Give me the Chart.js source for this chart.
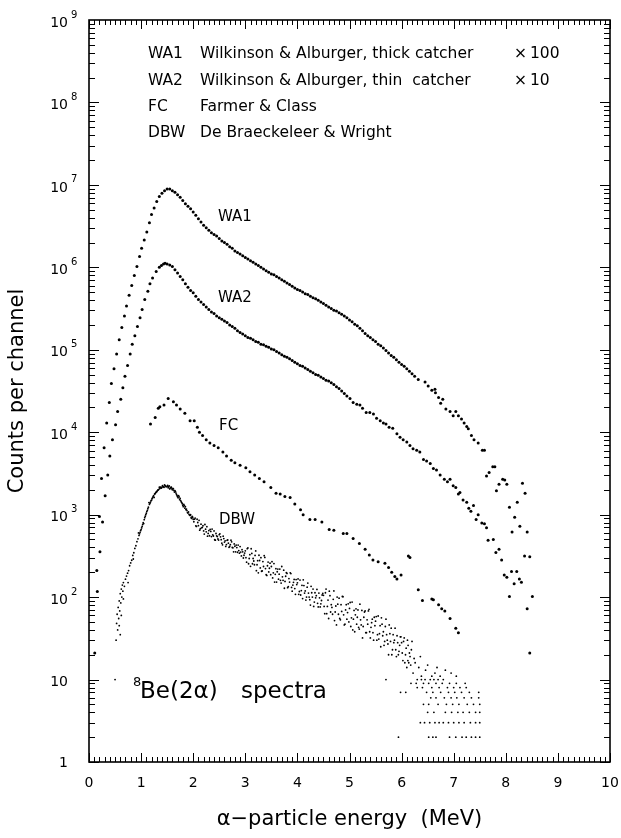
<!DOCTYPE html>
<html>
<head>
<meta charset="utf-8">
<script src="https://cdn.jsdelivr.net/npm/chart.js@4.4.1/dist/chart.umd.min.js"></script>
<style>
  html, body { margin: 0; padding: 0; background: #fff; }
  #wrap { width: 621px; height: 838px; }
</style>
</head>
<body>
<div id="wrap"><canvas id="spectra" width="621" height="838"></canvas></div>
<script>
// [energy MeV, counts per channel] (WA1 already x100, WA2 x10)
const wa1 = [
  [0.11,21],[0.15,210],[0.20,950],[0.24,2750],[0.29,6460],[0.34,1.29e4],[0.39,2.29e4],[0.43,3.89e4],
  [0.48,5.89e4],[0.53,8.91e4],[0.58,1.32e5],[0.63,1.86e5],[0.68,2.57e5],[0.72,3.39e5],[0.77,4.57e5],
  [0.82,6.03e5],[0.87,7.94e5],[0.92,1.02e6],[0.97,1.35e6],[1.01,1.70e6],[1.06,2.14e6],[1.11,2.69e6],
  [1.16,3.47e6],[1.20,4.37e6],[1.25,5.25e6],[1.30,6.31e6],[1.35,7.24e6],[1.40,7.94e6],[1.45,8.51e6],
  [1.50,8.91e6],[1.55,8.91e6],[1.60,8.51e6],[1.65,8.13e6],[1.70,7.59e6],[1.75,7.08e6],[1.80,6.46e6],
  [1.85,5.89e6],[1.90,5.50e6],[1.95,5.13e6],[2.00,4.68e6],[2.05,4.27e6],[2.10,3.89e6],[2.15,3.55e6],
  [2.20,3.24e6],[2.25,3.02e6],[2.30,2.82e6],[2.35,2.63e6],[2.40,2.51e6],[2.45,2.40e6],[2.50,2.24e6],
  [2.55,2.09e6],[2.60,2.00e6],[2.65,1.91e6],[2.70,1.78e6],[2.75,1.70e6],[2.80,1.58e6],[2.85,1.51e6],
  [2.90,1.45e6],[2.95,1.38e6],[3.00,1.32e6],[3.05,1.26e6],[3.10,1.20e6],[3.15,1.15e6],[3.20,1.10e6],
  [3.25,1.05e6],[3.30,1.00e6],[3.35,9.55e5],[3.40,9.12e5],[3.45,8.71e5],[3.50,8.32e5],[3.55,8.13e5],
  [3.60,7.76e5],[3.65,7.41e5],[3.70,7.08e5],[3.75,6.76e5],[3.80,6.46e5],[3.85,6.17e5],[3.90,5.89e5],
  [3.95,5.62e5],[4.00,5.37e5],[4.05,5.25e5],[4.10,5.01e5],[4.15,4.79e5],[4.20,4.68e5],[4.25,4.47e5],
  [4.30,4.27e5],[4.35,4.17e5],[4.40,3.98e5],[4.45,3.80e5],[4.50,3.63e5],[4.55,3.47e5],[4.60,3.31e5],
  [4.65,3.16e5],[4.70,3.02e5],[4.75,2.95e5],[4.80,2.82e5],[4.85,2.69e5],[4.90,2.57e5],[4.95,2.45e5],
  [5.00,2.29e5],[5.05,2.19e5],[5.10,2.04e5],[5.15,1.95e5],[5.20,1.82e5],[5.25,1.70e5],[5.30,1.58e5],
  [5.35,1.48e5],[5.40,1.41e5],[5.45,1.32e5],[5.50,1.26e5],[5.55,1.17e5],[5.60,1.12e5],[5.65,1.05e5],
  [5.70,9.77e4],[5.75,9.12e4],[5.80,8.51e4],[5.85,8.13e4],[5.90,7.59e4],[5.95,7.08e4],[6.00,6.61e4],
  [6.05,6.31e4],[6.10,5.89e4],[6.15,5.50e4],[6.20,5.13e4],[6.25,4.79e4],[6.32,4.37e4],[6.45,4.07e4],
  [6.51,3.63e4],[6.58,3.24e4],[6.64,3.31e4],[6.65,3.02e4],[6.71,2.63e4],[6.75,2.24e4],[6.79,2.51e4],
  [6.85,1.91e4],[6.93,1.78e4],[6.99,1.58e4],[7.04,1.78e4],[7.09,1.58e4],[7.15,1.45e4],[7.20,1.29e4],
  [7.25,1.17e4],[7.28,1.10e4],[7.34,9120],[7.39,8130],[7.47,7410],[7.55,6030],[7.59,6030],[7.63,2950],
  [7.68,3240],[7.75,3800],[7.79,3800],[7.82,1950],[7.87,2340],[7.94,2690],[7.98,2630],[8.02,2340],
  [8.07,1230],[8.12,617],[8.17,933],[8.22,1410],[8.27,724],[8.32,2400],[8.37,1820],[8.41,617]
];

const wa2 = [
  [0.16,117],[0.21,355],[0.26,813],[0.31,1700],[0.36,3020],[0.40,5130],[0.45,8130],[0.51,1.23e4],
  [0.55,1.78e4],[0.61,2.51e4],[0.65,3.47e4],[0.69,4.79e4],[0.74,6.46e4],[0.79,8.91e4],[0.83,1.17e5],
  [0.88,1.48e5],[0.93,1.91e5],[0.98,2.45e5],[1.02,3.09e5],[1.07,4.07e5],[1.13,5.13e5],[1.17,6.31e5],
  [1.22,7.41e5],[1.29,8.91e5],[1.35,1.00e6],[1.39,1.05e6],[1.43,1.10e6],[1.46,1.12e6],[1.50,1.10e6],
  [1.55,1.07e6],[1.60,1.02e6],[1.65,9.33e5],[1.70,8.51e5],[1.75,7.76e5],[1.80,7.08e5],[1.85,6.31e5],
  [1.90,5.75e5],[1.95,5.25e5],[2.00,4.90e5],[2.05,4.47e5],[2.10,4.07e5],[2.15,3.80e5],[2.20,3.55e5],
  [2.25,3.31e5],[2.30,3.09e5],[2.35,2.88e5],[2.40,2.75e5],[2.45,2.57e5],[2.50,2.45e5],[2.55,2.34e5],
  [2.60,2.24e5],[2.65,2.14e5],[2.70,2.00e5],[2.75,1.91e5],[2.80,1.82e5],[2.85,1.70e5],[2.90,1.62e5],
  [2.95,1.55e5],[3.00,1.48e5],[3.05,1.41e5],[3.10,1.38e5],[3.15,1.32e5],[3.20,1.26e5],[3.25,1.23e5],
  [3.30,1.17e5],[3.35,1.15e5],[3.40,1.10e5],[3.45,1.07e5],[3.50,1.02e5],[3.55,1.00e5],[3.60,9.55e4],
  [3.65,9.12e4],[3.70,8.71e4],[3.75,8.32e4],[3.80,8.13e4],[3.85,7.76e4],[3.90,7.41e4],[3.95,7.08e4],
  [4.00,6.76e4],[4.05,6.46e4],[4.10,6.31e4],[4.15,6.03e4],[4.20,5.75e4],[4.25,5.50e4],[4.30,5.25e4],
  [4.35,5.01e4],[4.40,4.90e4],[4.45,4.68e4],[4.50,4.47e4],[4.55,4.27e4],[4.60,4.17e4],[4.65,3.98e4],
  [4.70,3.80e4],[4.75,3.55e4],[4.80,3.39e4],[4.85,3.16e4],[4.90,2.95e4],[4.95,2.75e4],[5.01,2.57e4],
  [5.07,2.29e4],[5.14,2.19e4],[5.20,2.14e4],[5.25,1.95e4],[5.32,1.74e4],[5.39,1.74e4],[5.46,1.66e4],
  [5.52,1.48e4],[5.59,1.38e4],[5.65,1.29e4],[5.70,1.26e4],[5.76,1.15e4],[5.83,1.12e4],[5.91,9550],
  [5.97,8710],[6.03,8130],[6.10,7590],[6.16,6920],[6.22,6310],[6.29,6030],[6.35,5750],[6.42,4680],
  [6.48,4470],[6.55,4170],[6.61,3630],[6.67,3470],[6.74,3020],[6.82,2690],[6.88,2510],[6.93,2690],
  [6.99,2240],[7.04,2140],[7.09,1780],[7.12,1860],[7.18,1510],[7.25,1410],[7.29,1200],[7.33,1100],
  [7.38,1290],[7.43,871],[7.47,1000],[7.54,794],[7.59,776],[7.63,692],[7.66,490],[7.76,501],
  [7.81,347],[7.87,380],[7.92,282],[7.97,186],[8.02,174],[8.07,102],[8.11,204],[8.16,145],
  [8.21,204],[8.26,166],[8.30,151],[8.36,316],[8.41,72],[8.46,309],[8.46,21],[8.51,102]
];

const fc = [
  [1.18,1.26e4],[1.27,1.51e4],[1.33,1.95e4],[1.36,2.04e4],[1.44,2.14e4],[1.52,2.57e4],[1.62,2.34e4],
  [1.68,2.14e4],[1.75,1.91e4],[1.84,1.70e4],[1.94,1.38e4],[2.02,1.38e4],[2.08,1.15e4],[2.12,1.00e4],
  [2.18,9120],[2.25,8130],[2.32,7410],[2.40,6920],[2.48,6460],[2.57,5750],[2.64,5130],[2.73,4570],
  [2.80,4270],[2.90,3980],[3.01,3720],[3.09,3310],[3.18,3020],[3.27,2750],[3.36,2510],[3.49,2140],
  [3.59,1820],[3.67,1780],[3.76,1660],[3.86,1620],[3.95,1350],[4.06,1150],[4.11,1000],[4.24,871],
  [4.34,871],[4.47,813],[4.61,661],[4.70,646],[4.88,589],[4.95,589],[5.07,513],[5.19,447],[5.30,380],
  [5.38,324],[5.45,282],[5.55,269],[5.68,257],[5.75,229],[5.81,200],[5.87,178],[5.91,166],[5.99,186],
  [6.13,316],[6.16,302],[6.32,123],[6.40,91],[6.58,95],[6.61,93],[6.71,81],[6.77,72],[6.83,68],
  [6.93,55],[7.04,42],[7.09,37]
];

const dbw = [
  [0.50,10],[0.52,30],[0.53,48],[0.54,62],[0.55,40],[0.56,75],[0.57,55],[0.58,90],[0.58,45],[0.59,68],
  [0.60,110],[0.60,35],[0.61,85],[0.62,125],[0.62,60],[0.63,100],[0.64,140],[0.65,118],[0.66,150],
  [0.66,95],[0.68,135],[0.70,165],[0.72,180],[0.74,195],[0.75,150],[0.76,210],[0.78,240],[0.80,260],
  [0.82,280],[0.84,320],[0.85,290],[0.86,345],[0.88,390],[0.90,420],[0.92,470],[0.94,510],[0.95,600],
  [0.96,560],[0.98,610],[1.00,660],[1.02,720],[1.04,800],[1.05,780],[1.06,870],[1.08,960],[1.10,1040],
  [1.12,1130],[1.14,1230],[1.15,1400],[1.16,1330],[1.18,1420],[1.20,1500],[1.22,1600],[1.24,1700],
  [1.25,1620],[1.26,1780],[1.28,1850],[1.30,1900],[1.32,1980],[1.34,2030],[1.35,2150],[1.36,2080],
  [1.38,2120],[1.40,2150],[1.42,2200],[1.44,2150],[1.45,2300],[1.46,2250],[1.48,2180],[1.50,2200],
  [1.52,2120],[1.54,2230],[1.55,2050],[1.56,2100],[1.58,2150],[1.60,2000],[1.62,2050],[1.64,1880],
  [1.65,1950],[1.66,1900],[1.68,1760],[1.70,1650],[1.72,1700],[1.74,1520],[1.75,1580],[1.76,1480],
  [1.78,1400],[1.80,1300],[1.82,1330],[1.84,1200],[1.85,1250],[1.86,1150],[1.88,1120],[1.90,1050],
  [1.92,1010],[1.94,980],[1.95,1000],[1.96,920],[1.98,950],[2.00,880],
  [0.97,585],[0.99,640],[1.01,690],[1.03,760],[1.07,920],[1.09,1000],[1.11,1090],[1.13,1180],
  [1.17,1380],[1.19,1470],[1.21,1560],[1.23,1650],[1.27,1800],[1.29,1880],[1.31,1940],[1.33,2000],
  [1.37,2160],[1.39,2100],[1.41,2250],[1.43,2170],[1.47,2220],[1.51,2260],[1.53,2180],[1.57,2140],
  [1.59,2060],[1.61,2080],[1.63,1960],[1.67,1830],[1.69,1700],[1.71,1600],[1.73,1640],[1.77,1430],
  [1.79,1360],[1.81,1250],[1.83,1290],[1.87,1170],[1.89,1060],[1.91,1080],[1.93,990],[1.97,900],
  [1.99,930],
  [2.025,882],[2.05,732],[2.075,880],[2.10,736],[2.125,649],[2.15,766],[2.175,703],[2.20,635],
  [2.225,760],[2.25,620],[2.275,549],[2.30,642],[2.325,663],[2.35,542],[2.375,569],[2.40,635],
  [2.425,491],[2.45,554],[2.475,507],[2.50,572],[2.525,539],[2.55,451],[2.575,549],[2.60,465],
  [2.625,412],[2.65,489],[2.675,451],[2.70,411],[2.725,491],[2.75,400],[2.775,354],[2.80,414],
  [2.825,428],[2.85,350],[2.875,367],[2.90,410],[2.925,316],[2.95,354],[2.975,322],
  [2.0125,821],[2.0375,909],[2.0625,720],[2.0875,803],[2.1125,853],[2.1375,675],[2.1625,692],
  [2.1875,734],[2.2125,581],[2.2375,666],[2.2625,715],[2.2875,593],[2.3125,555],[2.3375,626],
  [2.3625,669],[2.3875,551],[2.4125,496],[2.4375,591],[2.4625,543],[2.4875,492],[2.5125,586],
  [2.5375,497],[2.5625,431],[2.5875,513],[2.6125,482],[2.6375,434],[2.6625,493],[2.6875,402],
  [2.7125,432],[2.7375,468],[2.7625,396],[2.7875,442],[2.8125,354],[2.8375,399],[2.8625,428],
  [2.8875,341],[2.9125,352],[2.9375,376],[2.9625,298],[2.9875,342],
  [3.00,364],[3.025,265],[3.05,395],[3.075,294],[3.10,236],[3.125,339],[3.15,294],[3.175,247],
  [3.20,363],[3.225,247],[3.25,197],[3.275,278],[3.30,301],[3.325,208],[3.35,235],[3.375,303],
  [3.40,187],[3.425,240],[3.45,202],[3.475,258],[3.50,235],[3.525,171],[3.55,255],[3.575,189],
  [3.60,152],[3.625,219],[3.65,190],[3.675,160],[3.70,235],[3.725,160],[3.75,128],[3.775,179],
  [3.80,194],[3.825,134],[3.85,152],[3.875,193],[3.90,118],[3.925,151],[3.95,127],[3.975,163],
  [4.00,149],[4.025,108],[4.05,161],[4.075,120],[4.10,96],[4.125,138],[4.15,119],[4.175,100],
  [4.20,148],[4.225,100],[4.25,80],[4.275,113],[4.30,125],[4.325,87],[4.35,98],[4.375,124],
  [4.40,76],[4.425,98],[4.45,83],[4.475,106],
  [3.0125,301],[3.0375,387],[3.0625,254],[3.0875,327],[3.1125,386],[3.1375,254],[3.1625,274],
  [3.1875,320],[3.2125,209],[3.2375,277],[3.2625,322],[3.2875,226],[3.3125,206],[3.3375,270],
  [3.3625,318],[3.3875,222],[3.4125,183],[3.4375,266],[3.4625,224],[3.4875,187],[3.5125,269],
  [3.5375,197],[3.5625,152],[3.5875,221],[3.6125,203],[3.6375,165],[3.6625,219],[3.6875,148],
  [3.7125,176],[3.7375,212],[3.7625,155],[3.7875,198],[3.8125,130],[3.8375,168],[3.8625,197],
  [3.8875,131],[3.9125,140],[3.9375,164],[3.9625,108],[3.9875,142],[4.0125,166],[4.0375,117],
  [4.0625,106],[4.0875,139],[4.1125,162],[4.1375,112],[4.1625,92],[4.1875,132],[4.2125,112],
  [4.2375,93],[4.2625,135],[4.2875,100],[4.3125,77],[4.3375,113],[4.3625,104],[4.3875,84],
  [4.4125,112],[4.4375,76],[4.4625,91],[4.4875,111],
  [4.50,105],[4.525,63],[4.55,125],[4.575,77],[4.60,55],[4.625,104],[4.65,81],[4.675,62],
  [4.70,119],[4.725,66],[4.75,46],[4.775,82],[4.80,97],[4.825,53],[4.85,67],[4.875,101],
  [4.90,46],[4.925,70],[4.95,54],[4.975,83],[5.00,73],[5.025,44],[5.05,87],[5.075,54],
  [5.10,38],[5.125,72],[5.15,57],[5.175,43],[5.20,82],[5.225,46],[5.25,32],[5.275,57],
  [5.30,68],[5.325,37],[5.35,47],[5.375,71],[5.40,32],[5.425,49],[5.45,37],[5.475,57],
  [5.50,51],[5.525,30],[5.55,59],[5.575,36],[5.60,25],[5.625,47],[5.65,38],[5.675,29],
  [5.70,54],[5.725,30],[5.75,20],[5.775,36],[5.80,42],[5.825,23],[5.85,28],[5.875,42],
  [5.90,19],[5.925,28],[5.95,22],[5.975,33],[6.00,28],[6.025,17],[6.05,32],[6.075,20],
  [6.10,14],[6.125,26],[6.15,21],[6.175,15],[6.20,29],
  [4.5125,77],[4.5375,113],[4.5625,63],[4.5875,92],[4.6125,118],[4.6375,66],[4.6625,75],
  [4.6875,94],[4.7125,52],[4.7375,78],[4.7625,100],[4.7875,62],[4.8125,55],[4.8375,81],
  [4.8625,102],[4.8875,61],[4.9125,47],[4.9375,81],[4.9625,65],[4.9875,50],[5.0125,86],
  [5.0375,56],[5.0625,40],[5.0875,69],[5.1125,61],[5.1375,47],[5.1625,70],[5.1875,41],
  [5.2125,53],[5.2375,69],[5.2625,44],[5.2875,66],[5.3125,37],[5.3375,53],[5.3625,68],
  [5.3875,38],[5.4125,43],[5.4375,54],[5.4625,30],[5.4875,45],[5.5125,58],[5.5375,35],
  [5.5625,31],[5.5875,45],[5.6125,56],[5.6375,34],[5.6625,26],[5.6875,44],[5.7125,35],
  [5.7375,27],[5.7625,46],[5.7875,29],[5.8125,20],[5.8375,35],[5.8625,30],[5.8875,23],
  [5.9125,34],[5.9375,20],[5.9625,26],[5.9875,33],[6.0125,21],[6.0375,29],[6.0625,16],
  [6.0875,24],[6.1125,30],[6.1375,16],[6.1625,19],[6.1875,23],
  [6.22,12],[6.26,16],[6.33,14],[6.38,11],[6.46,13],[6.50,15],[6.58,11],[6.64,12],[6.74,11],
  [6.84,13],[6.95,12],[7.05,11],[6.24,18],[6.12,17],[6.36,19],[6.68,14],
  [5.70,10],[6.30,10],[6.38,10],[6.45,10],[6.55,10],[6.62,10],[6.70,10],[6.80,10],
  [6.18,9],[6.28,9],[6.42,9],[6.52,9],[6.66,9],[6.78,9],[6.92,9],[7.05,9],[7.22,9],
  [6.30,8],[6.40,8],[6.58,8],[6.72,8],[6.88,8],[7.00,8],[7.12,8],[7.24,8],
  [5.98,7],[6.08,7],[6.48,7],[6.60,7],[6.75,7],[6.90,7],[7.02,7],[7.15,7],[7.30,7],[7.48,7],
  [6.56,6],[6.66,6],[6.82,6],[6.95,6],[7.06,6],[7.20,6],[7.34,6],[7.48,6],
  [6.42,5],[6.52,5],[6.70,5],[6.86,5],[6.98,5],[7.10,5],[7.26,5],[7.38,5],[7.50,5],
  [6.50,4],[6.62,4],[6.84,4],[6.96,4],[7.08,4],[7.18,4],[7.30,4],[7.42,4],[7.50,4],
  [6.36,3],[6.44,3],[6.54,3],[6.64,3],[6.72,3],[6.80,3],[6.90,3],[7.00,3],[7.10,3],[7.20,3],
  [7.32,3],[7.42,3],[7.50,3],
  [5.94,2],[6.52,2],[6.60,2],[6.66,2],[6.92,2],[7.04,2],[7.16,2],[7.24,2],[7.34,2],[7.42,2],[7.50,2]
];

const xTickLabels = ['0', '1', '2', '3', '4', '5', '6', '7', '8', '9', '10'];
const yDecades = [0, 1, 2, 3, 4, 5, 6, 7, 8, 9];

const legendRows = [
  ['WA1', 'Wilkinson & Alburger, thick catcher', '100'],
  ['WA2', 'Wilkinson & Alburger, thin  catcher', '10'],
  ['FC', 'Farmer & Class', ''],
  ['DBW', 'De Braeckeleer & Wright', '']
];
const curveLabels = ['WA1', 'WA2', 'FC', 'DBW'];

const FONT = '"DejaVu Sans", sans-serif';

const spectraChart = {
  toPoints(rows) {
    return rows.map(function (r) { return {x: r[0], y: r[1]}; });
  },

  dataset(rows, radius) {
    return {
      data: this.toPoints(rows),
      showLine: false,
      pointRadius: radius,
      pointHoverRadius: radius,
      pointBorderWidth: 0,
      pointBackgroundColor: '#000',
      borderColor: '#000'
    };
  },

  // axes, ticks and all the text are painted here, on top of the points
  decorations: {
    id: 'decorations',
    afterDraw(chart) {
      const ctx = chart.ctx;
      const a = chart.chartArea;
      const x = chart.scales.x;
      const y = chart.scales.y;

      ctx.save();
      ctx.strokeStyle = '#000';
      ctx.fillStyle = '#000';

      ctx.lineWidth = 1;
      for (let i = 0; i <= 100; i++) {
        const px = Math.round(x.getPixelForValue(i / 10)) + 0.5;
        const len = i % 10 === 0 ? 9 : 5;
        ctx.beginPath();
        ctx.moveTo(px, a.bottom);
        ctx.lineTo(px, a.bottom - len);
        ctx.moveTo(px, a.top);
        ctx.lineTo(px, a.top + len);
        ctx.stroke();
      }
      for (let d = 0; d < 9; d++) {
        for (let m = 1; m <= 9; m++) {
          const py = Math.round(y.getPixelForValue(m * Math.pow(10, d))) + 0.5;
          const len = m === 1 ? 10 : 6;
          ctx.beginPath();
          ctx.moveTo(a.left, py);
          ctx.lineTo(a.left + len, py);
          ctx.moveTo(a.right, py);
          ctx.lineTo(a.right - len, py);
          ctx.stroke();
        }
      }

      ctx.lineWidth = 1.6;
      ctx.strokeRect(a.left, a.top, a.right - a.left, a.bottom - a.top);

      // x tick labels
      ctx.font = '14px ' + FONT;
      ctx.textAlign = 'center';
      ctx.textBaseline = 'middle';
      xTickLabels.forEach(function (t, i) {
        ctx.fillText(t, x.getPixelForValue(i), a.bottom + 21);
      });

      // y tick labels: 1, 10, 10^2 ... 10^9
      yDecades.forEach(function (d) {
        const py = y.getPixelForValue(Math.pow(10, d));
        ctx.textAlign = 'right';
        ctx.font = '14px ' + FONT;
        if (d === 0) {
          ctx.fillText('1', 68, py + 1);
          return;
        }
        ctx.fillText('10', 68, py + 3);
        if (d > 1) {
          ctx.textAlign = 'left';
          ctx.font = '10px ' + FONT;
          ctx.fillText(String(d), 71, py - 5);
        }
      });

      // axis titles
      ctx.font = '21px ' + FONT;
      ctx.textAlign = 'center';
      ctx.fillText('\u03b1\u2212particle energy  (MeV)', (a.left + a.right) / 2, 820);
      ctx.save();
      ctx.translate(18, (a.top + a.bottom) / 2);
      ctx.rotate(-Math.PI / 2);
      ctx.fillText('Counts per channel', 0, 0);
      ctx.restore();

      // legend block
      ctx.font = '15.5px ' + FONT;
      ctx.textAlign = 'left';
      const rowY = [54, 81, 107, 133];
      legendRows.forEach(function (r, i) {
        ctx.fillText(r[0], 148, rowY[i]);
        ctx.fillText(r[1], 200, rowY[i]);
        if (r[2]) {
          ctx.fillText('\u00d7', 514, rowY[i]);
          ctx.fillText(r[2], 530, rowY[i]);
        }
      });

      // curve labels
      ctx.font = '15px ' + FONT;
      const labelPos = [[218, 217], [218, 298], [219, 426], [219, 520]];
      curveLabels.forEach(function (t, i) {
        ctx.fillText(t, labelPos[i][0], labelPos[i][1]);
      });

      // 8Be(2alpha) spectra
      ctx.font = '13px ' + FONT;
      ctx.fillText('8', 133, 683);
      ctx.font = '23px ' + FONT;
      ctx.fillText('Be(2\u03b1)', 140, 692);
      ctx.fillText('spectra', 241, 692);

      ctx.restore();
    }
  },

  init() {
    const ctx = document.getElementById('spectra');
    new Chart(ctx, {
      type: 'scatter',
      data: {
        datasets: [
          this.dataset(wa1, 1.5),
          this.dataset(wa2, 1.5),
          this.dataset(fc, 1.5),
          this.dataset(dbw, 0.9)
        ]
      },
      options: {
        responsive: false,
        animation: false,
        devicePixelRatio: 1,
        layout: {
          padding: {left: 89, top: 20, right: 11, bottom: 76}
        },
        scales: {
          x: {type: 'linear', min: 0, max: 10, display: false},
          y: {type: 'logarithmic', min: 1, max: 1e9, display: false}
        },
        plugins: {
          legend: {display: false},
          tooltip: {enabled: false}
        }
      },
      plugins: [this.decorations]
    });
  }
};

spectraChart.init();
</script>
</body>
</html>
